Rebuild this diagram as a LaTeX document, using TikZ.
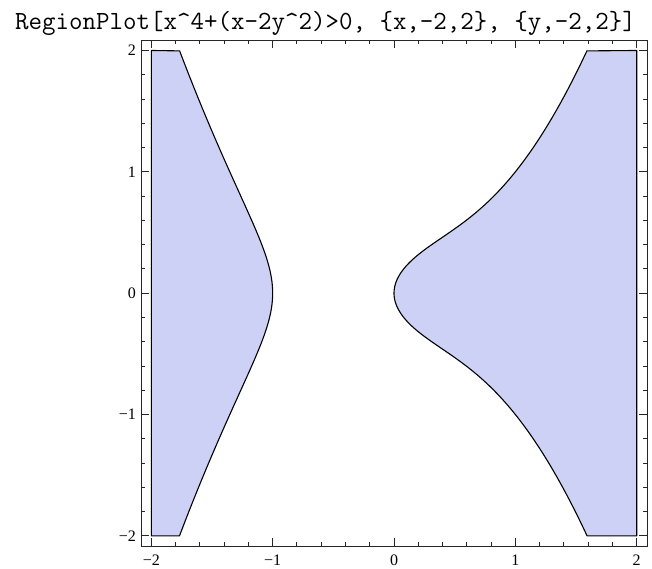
\documentclass[tikz,border=0pt]{standalone}
\usepackage{fontspec}
\newfontfamily\ticksfont{Liberation Serif}
\definecolor{regionblue}{RGB}{204,209,245}

\begin{document}
\begin{tikzpicture}[
    x=121.35pt,
    y=121.35pt,
    region/.style={
        fill=regionblue,
        draw=black,
        line width=1.1pt,
        line join=round
    },
    frameline/.style={
        draw=black!85,
        line width=0.9pt
    },
    tickmark/.style={
        black!85,
        line width=0.9pt
    },
    ticklabel/.style={
        font=\ticksfont\fontsize{16}{18}\selectfont,
        inner sep=0pt
    },
    titlelabel/.style={
        font=\ttfamily\fontsize{26.2}{30}\selectfont,
        inner sep=0pt
    }
]
    \useasboundingbox (-3.247,-2.265) rectangle (2.126,2.416);

    % Title
    \node[titlelabel, anchor=base] (title) at (-0.564,2.177)
        {RegionPlot[x\textasciicircum4+(x-2y\textasciicircum2)>0, \{x,-2,2\}, \{y,-2,2\}]};

    % Left region (x < -1)
    \filldraw[region] (-2,2) -- (-2,-2)
        -- plot[domain=-0.87628:0.87628, samples=90, smooth, variable=\u]
           ({-1-\u*\u}, {\u*sqrt((1+\u*\u)*(3+3*\u*\u+\u*\u*\u*\u)/2)})
        -- cycle;

    % Right region (x > 0)
    \filldraw[region] (2,2) -- (2,-2)
        -- plot[domain=-1.26138:1.26138, samples=120, smooth, variable=\t]
           ({\t*\t}, {\t*sqrt((1+\t*\t*\t*\t*\t*\t)/2)})
        -- cycle;

    % Frame
    \draw[frameline] (-2.085,-2.085) rectangle (2.085,2.085);

    % Ticks
    \foreach \k in {-10,...,10}{
        \pgfmathsetmacro\tp{\k/5}
        \pgfmathsetmacro\tl{ifthenelse(mod(\k,5)==0,0.066,0.033)}
        \draw[tickmark] (\tp,-2.085) -- ++(0,\tl);
        \draw[tickmark] (\tp,2.085) -- ++(0,-\tl);
        \draw[tickmark] (-2.085,\tp) -- ++(\tl,0);
        \draw[tickmark] (2.085,\tp) -- ++(-\tl,0);
    }

    % Tick labels
    \foreach \v/\s in {-2/−2,-1/−1,0/0,1/1,2/2}{
        \node[ticklabel, anchor=base] (xlab\v) at (\v,-2.248) {\s};
        \node[ticklabel, anchor=east] (ylab\v) at (-2.126,\v) {\s};
    }

\end{tikzpicture}
\end{document}
